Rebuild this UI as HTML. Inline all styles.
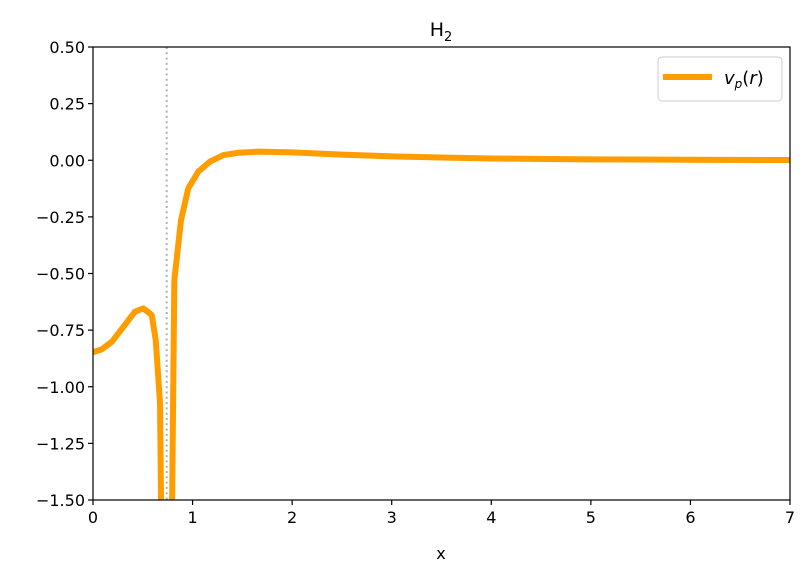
<!DOCTYPE html>
<html><head><meta charset="utf-8"><style>
html,body{margin:0;padding:0;background:#fff;overflow:hidden;width:812px;height:578px;}
svg{display:block;}
text{font-family:"DejaVu Sans","Liberation Sans",sans-serif;}
</style></head><body>
<svg id="chart" width="812" height="578" xmlns="http://www.w3.org/2000/svg">
<defs><clipPath id="clip"><rect x="93" y="47" width="697" height="453"/></clipPath></defs>
<rect x="0" y="0" width="812" height="578" fill="#fff"/>
<text x="441" y="36" text-anchor="middle" font-size="19">H<tspan font-size="13" dy="5">2</tspan></text>
<g id="series" clip-path="url(#clip)"></g>
<g id="axes"></g>
<text x="441" y="559" text-anchor="middle" font-size="16">x</text>
<g>
<rect x="658" y="57" width="124" height="44" rx="4" fill="#fff" stroke="#ccc" stroke-width="1"/>
<line x1="663" y1="77" x2="712" y2="77" stroke="#ff9c00" stroke-width="6"/>
<text x="724" y="84" font-size="18" font-style="italic">v<tspan font-size="12" dy="4">p</tspan><tspan dy="-4" font-style="normal">(</tspan>r<tspan font-style="normal">)</tspan></text>
</g>
</svg>
<script>
const xs=[0,0.087,0.19,0.32,0.42,0.505,0.59,0.63,0.673,0.72,0.76,0.817,0.884,0.957,1.058,1.175,1.31,1.46,1.66,2.0,2.5,3.0,3.5,4.0,5.0,6.0,7.0];
const vs=[-0.848,-0.835,-0.801,-0.727,-0.669,-0.654,-0.683,-0.794,-1.072,-3.0,-3.0,-0.529,-0.264,-0.124,-0.05,-0.006,0.023,0.033,0.038,0.035,0.025,0.017,0.012,0.008,0.004,0.002,0.001];
const xTicks=[0,1,2,3,4,5,6,7];
const yTicks=[0.5,0.25,0,-0.25,-0.5,-0.75,-1.0,-1.25,-1.5];
const vLineX=0.74;
const NS='http://www.w3.org/2000/svg';
const X0=93,X1=790,Y0=47,Y1=500;
const sx=v=>X0+(v-0)/(7-0)*(X1-X0);
const sy=v=>Y0+(0.5-v)/(0.5+1.5)*(Y1-Y0);
const series=document.getElementById('series'),axes=document.getElementById('axes');
function mk(t,a,p){const e=document.createElementNS(NS,t);for(const k in a)e.setAttribute(k,a[k]);p.appendChild(e);return e;}
const vl=mk('line',{x1:sx(vLineX),x2:sx(vLineX),y1:Y0,y2:Y1,stroke:'#b0b0b0','stroke-width':2,'stroke-dasharray':'2,3.3'},series);


const pl=mk('polyline',{points:xs.map((x,i)=>sx(x)+','+sy(vs[i])).join(' '),fill:'none',stroke:'#ff9c00','stroke-width':6,'stroke-linejoin':'round'},series);


const fr=mk('rect',{x:X0,y:Y0,width:X1-X0,height:Y1-Y0,fill:'none',stroke:'#000','stroke-width':1.2},axes);


xTicks.forEach(t=>{const x=sx(t);
 const l=mk('line',{x1:x,x2:x,y1:Y1,y2:Y1+5,stroke:'#000','stroke-width':1.2},axes);
 
 
 const tx=mk('text',{x:x,y:Y1+23,'text-anchor':'middle','font-size':16},axes);tx.textContent=t;
 
 });
yTicks.forEach(t=>{const y=sy(t);
 const l=mk('line',{x1:X0-5,x2:X0,y1:y,y2:y,stroke:'#000','stroke-width':1.2},axes);
 
 
 const tx=mk('text',{x:X0-8,y:y+6,'text-anchor':'end','font-size':16},axes);tx.textContent=(t<0?'\u2212':'')+Math.abs(t).toFixed(2);
 
 });
</script>
</body></html>
